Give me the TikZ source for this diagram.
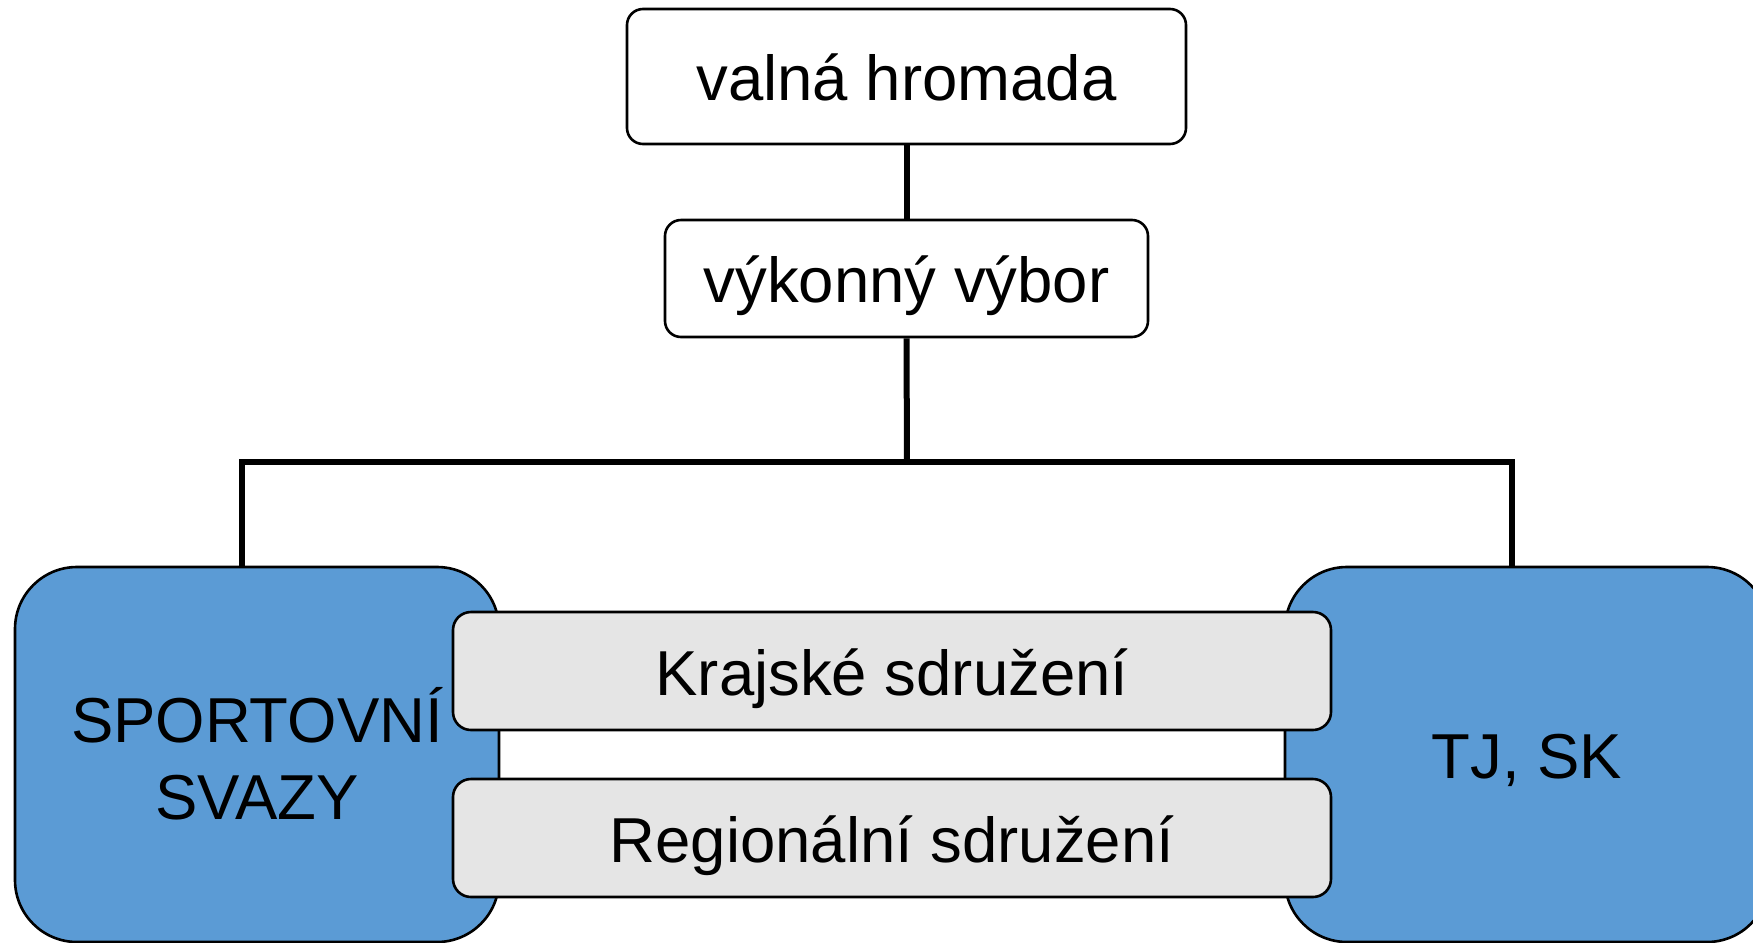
\documentclass[tikz,border=0pt]{standalone}
\usepackage{fontspec}
\setmainfont{Liberation Sans}
\definecolor{boxblue}{HTML}{5B9BD5}
\definecolor{boxgray}{HTML}{E5E5E5}
\begin{document}
\begin{tikzpicture}[x=0.5pt,y=-0.5pt,
  lbl/.style={font=\fontsize{31.75}{38}\selectfont, text height=24pt, text depth=0pt, inner sep=0pt},
  topbox/.style={lbl, draw, line width=1.3pt, fill=white, rounded corners=8pt},
  bluebox/.style={draw, line width=1.3pt, fill=boxblue, rounded corners=31pt, minimum width=242pt, minimum height=187.5pt, inner sep=0pt},
  graybox/.style={lbl, draw, line width=1.3pt, fill=boxgray, rounded corners=9pt, minimum width=439pt, minimum height=59pt},
  conn/.style={line width=3pt}]
\useasboundingbox (0,0) rectangle (1753,943);
\clip (0,0) rectangle (1753,943);
\fill[white] (0,0) rectangle (1753,943);

\coordinate (hub) at (907,462);
\coordinate (jl) at (242,567);
\coordinate (jr) at (1512,567);

\node[topbox, minimum width=279.5pt, minimum height=67.5pt] (vh) at (906.5,76.5) {valná hromada};
\node[topbox, minimum width=241.5pt, minimum height=58.5pt] (vv) at (906.5,278.5) {výkonný výbor};
\draw[conn] (vh.south) -- (vv.north);
\draw[conn] (vv.south) -- (hub);
\draw[conn] (jl) |- (hub) -| (jr);

\node[bluebox] (sv) at (257,754.5) {};
\node[bluebox, lbl] (tj) at (1527,754.5) {TJ, SK};
\node[lbl, anchor=base] (sv1) at (257,742) {SPORTOVNÍ};
\node[lbl, anchor=base] (sv2) at (257,819) {SVAZY};

\node[graybox] (ks) at (892,671) {Krajské sdružení};
\node[graybox] (rs) at (892,838) {Regionální sdružení};
\end{tikzpicture}
\end{document}
